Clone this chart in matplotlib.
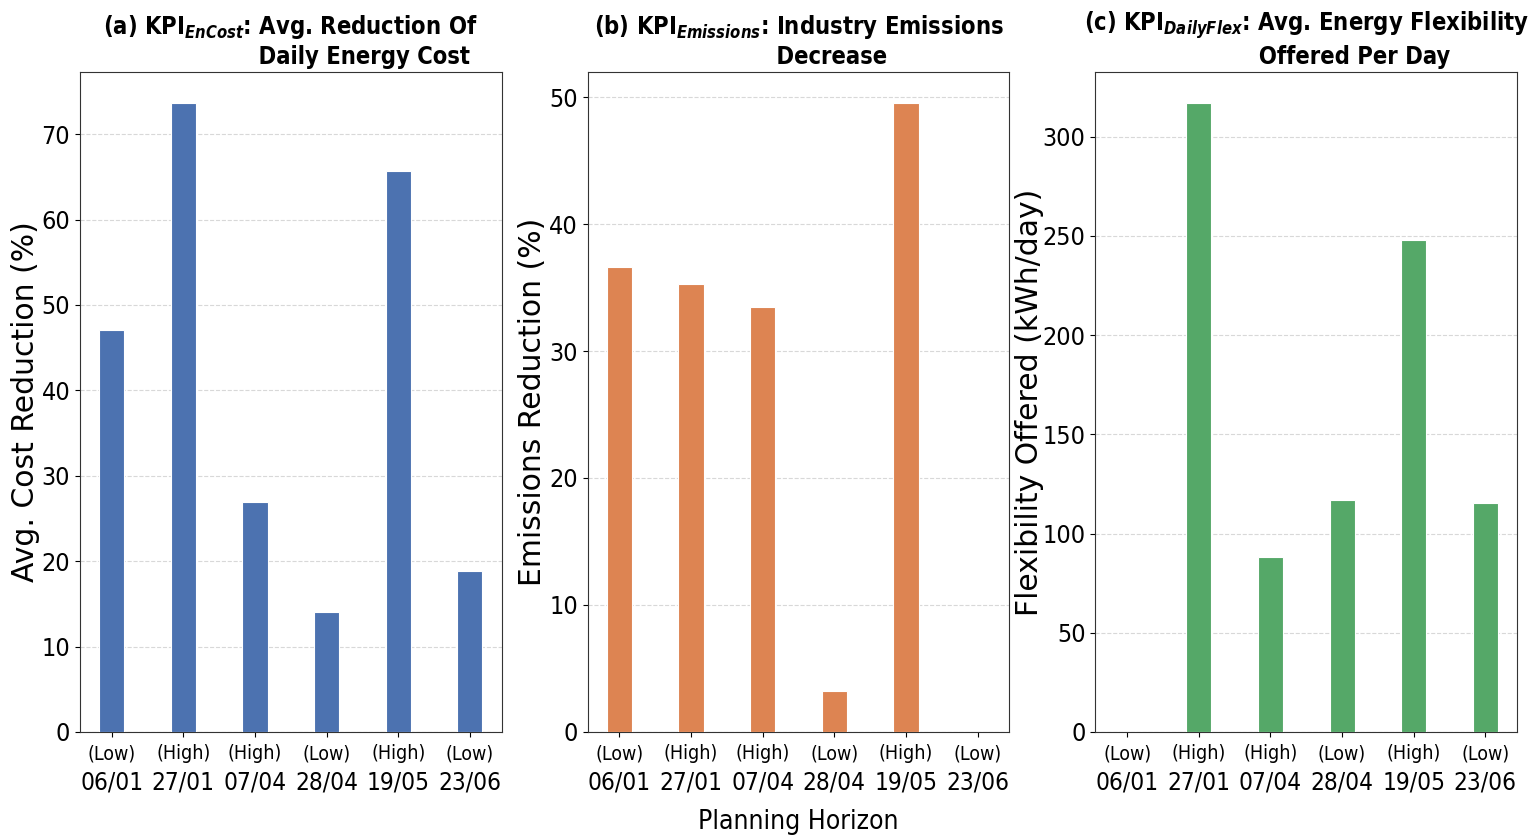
import matplotlib
matplotlib.use("Agg")
import matplotlib.pyplot as plt
import numpy as np

plt.rcParams['font.family'] = 'DejaVu Sans'
plt.rcParams['font.stretch'] = 'condensed'
plt.rcParams['mathtext.fontset'] = 'custom'
plt.rcParams['mathtext.bf'] = 'DejaVu Sans:bold:stretch=condensed'
plt.rcParams['mathtext.bfit'] = 'DejaVu Sans:italic:bold:stretch=condensed'
plt.rcParams['mathtext.rm'] = 'DejaVu Sans:stretch=condensed'

# planning horizon days and their price level
dates = ["06/01", "27/01", "07/04", "28/04", "19/05", "23/06"]
levels = ["(Low)", "(High)", "(High)", "(Low)", "(High)", "(Low)"]

cost_reduction = [47.1, 73.6, 26.9, 14.1, 65.7, 18.9]
emissions_reduction = [36.6, 35.3, 33.5, 3.2, 49.5, 0.0]
flex_offered = [0.0, 316.8, 88.3, 117.0, 247.8, 115.3]

# (values, colour, ylabel, title line 1, title line 2, tick step, ylabel x)
panels = [
    (cost_reduction, "#4C72B0", "Avg. Cost Reduction (%)",
     r"(a) $\mathbf{KPI}_{\mathbfit{EnCost}}$: Avg. Reduction Of",
     " " * 20 + "Daily Energy Cost", 10, -0.095),
    (emissions_reduction, "#DD8452", "Emissions Reduction (%)",
     r"(b) $\mathbf{KPI}_{\mathbfit{Emissions}}$: Industry Emissions",
     " " * 9 + "Decrease", 10, -0.097),
    (flex_offered, "#55A868", "Flexibility Offered (kWh/day)",
     r"(c) $\mathbf{KPI}_{\mathbfit{DailyFlex}}$: Avg. Energy Flexibility",
     " " * 13 + "Offered Per Day", 50, -0.123),
]

fig, axes = plt.subplots(1, 3, figsize=(15.29, 8.35), dpi=100)
fig.subplots_adjust(left=0.0523, right=0.9922, bottom=0.1234, top=0.9138, wspace=0.204)

x = np.arange(len(dates))
for ax, (vals, color, ylab, t1, t2, step, lab_x) in zip(axes, panels):
    ax.bar(x, vals, width=0.35, color=color, edgecolor="white", linewidth=0.8, zorder=3)
    ax.yaxis.set_major_locator(plt.MultipleLocator(step))
    ax.grid(axis="y", linestyle="--", color="#d8d8d8", linewidth=0.8, zorder=0)
    ax.set_xticks(x)
    ax.set_xticklabels(dates, fontsize=17.5)
    ax.tick_params(axis="x", pad=24)
    ax.tick_params(axis="y", labelsize=18)
    for i, lv in enumerate(levels):
        ax.annotate(lv, xy=(i, 0), xycoords=("data", "axes fraction"),
                    xytext=(0, -9), textcoords="offset points",
                    ha="center", va="top", fontsize=14)
    ax.set_ylabel(ylab, fontsize=21.5, fontstretch="normal")
    ax.yaxis.set_label_coords(lab_x, 0.5)
    ax.set_title(t1 + "\n" + t2, fontsize=17, fontweight="bold", pad=6)
    for s in ax.spines.values():
        s.set_color("#333333")

axes[1].set_xlabel("Planning Horizon", fontsize=19, labelpad=11)

fig.savefig("out.png", dpi=100)
